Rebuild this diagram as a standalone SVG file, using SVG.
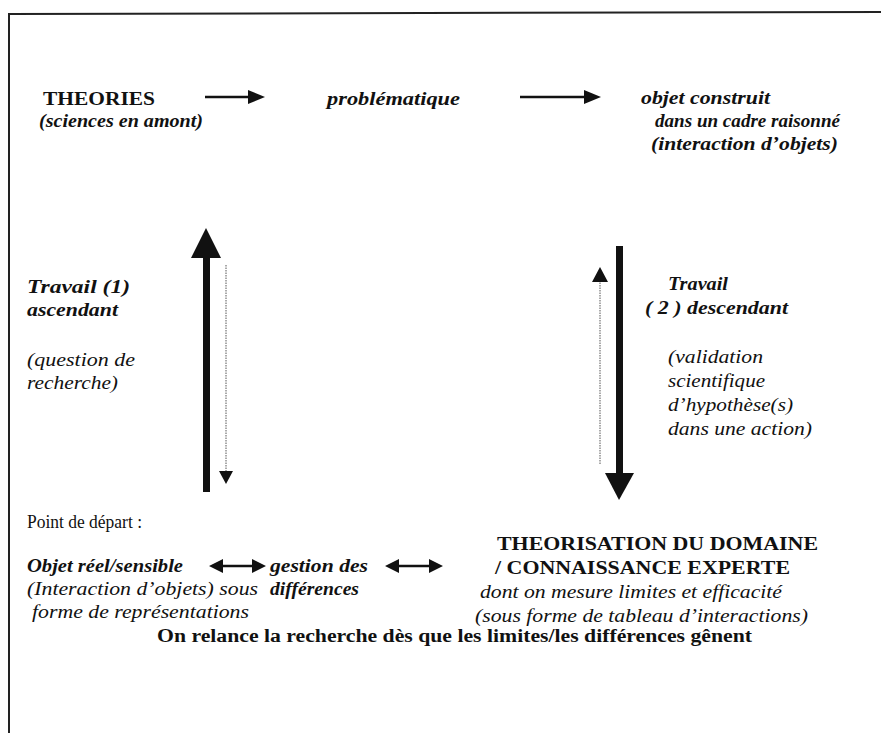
<svg xmlns="http://www.w3.org/2000/svg" width="881" height="733" viewBox="0 0 881 733" font-family="Liberation Serif, DejaVu Serif, serif">
<style>
text{font-family:'Liberation Serif','DejaVu Serif',serif;font-size:18px;fill:#111}
.b{font-weight:bold}
.i{font-style:italic}
.bi{font-weight:bold;font-style:italic}
.frame{stroke:#222;stroke-width:2;fill:none}
.thin{stroke:#111;stroke-width:2.5}
.dot{stroke:#555;stroke-width:1;stroke-dasharray:1.5 1}
</style>
<rect width="881" height="733" fill="#fff"/>
<path class="frame" d="M9,733 L9,14 L881,12"/>

<g id="theories"><text class="b" x="43" y="105" textLength="112" lengthAdjust="spacingAndGlyphs">THEORIES</text><text class="bi" x="39" y="127" textLength="164" lengthAdjust="spacingAndGlyphs">(sciences en amont)</text></g>
<g id="problematique"><text class="bi" x="327" y="105" textLength="133" lengthAdjust="spacingAndGlyphs">problématique</text></g>
<g id="objet-construit"><text class="bi" x="641" y="104" textLength="129" lengthAdjust="spacingAndGlyphs">objet construit</text><text class="bi" x="655" y="127" textLength="185" lengthAdjust="spacingAndGlyphs">dans un cadre raisonné</text><text class="bi" x="651" y="150" textLength="187" lengthAdjust="spacingAndGlyphs">(interaction d’objets)</text></g>
<g id="travail1"><text class="bi" x="27" y="293" textLength="103" lengthAdjust="spacingAndGlyphs">Travail  (1)</text><text class="bi" x="27" y="316" textLength="91" lengthAdjust="spacingAndGlyphs">ascendant</text><text class="i" x="27" y="366" textLength="108" lengthAdjust="spacingAndGlyphs">(question de</text><text class="i" x="27" y="389" textLength="91" lengthAdjust="spacingAndGlyphs">recherche)</text></g>
<g id="travail2"><text class="bi" x="668" y="290" textLength="60" lengthAdjust="spacingAndGlyphs">Travail</text><text class="bi" x="645" y="314" textLength="143" lengthAdjust="spacingAndGlyphs">( 2 ) descendant</text><text class="i" x="668" y="363" textLength="95" lengthAdjust="spacingAndGlyphs">(validation</text><text class="i" x="668" y="387" textLength="97" lengthAdjust="spacingAndGlyphs">scientifique</text><text class="i" x="668" y="411" textLength="125" lengthAdjust="spacingAndGlyphs">d’hypothèse(s)</text><text class="i" x="668" y="435" textLength="144" lengthAdjust="spacingAndGlyphs">dans une action)</text></g>
<g id="depart"><text x="27" y="528" textLength="115" lengthAdjust="spacingAndGlyphs">Point de départ :</text><text class="bi" x="27" y="572" textLength="156" lengthAdjust="spacingAndGlyphs">Objet réel/sensible</text><text class="i" x="27" y="595" textLength="231" lengthAdjust="spacingAndGlyphs">(Interaction d’objets) sous</text><text class="i" x="32" y="618" textLength="217" lengthAdjust="spacingAndGlyphs">forme de représentations</text></g>
<g id="gestion"><text class="bi" x="270" y="572" textLength="98" lengthAdjust="spacingAndGlyphs">gestion des</text><text class="bi" x="270" y="595" textLength="89" lengthAdjust="spacingAndGlyphs">différences</text></g>
<g id="theorisation"><text class="b" x="497" y="550" textLength="321" lengthAdjust="spacingAndGlyphs">THEORISATION DU DOMAINE</text><text class="b" x="495" y="574" textLength="295" lengthAdjust="spacingAndGlyphs">/ CONNAISSANCE EXPERTE</text><text class="i" x="480" y="598" textLength="302" lengthAdjust="spacingAndGlyphs">dont on mesure limites et efficacité</text><text class="i" x="475" y="622" textLength="333" lengthAdjust="spacingAndGlyphs">(sous forme de tableau d’interactions)</text></g>
<g id="relance"><text class="b" x="157" y="642" textLength="595" lengthAdjust="spacingAndGlyphs">On relance la recherche dès que les limites/les différences gênent</text></g>

<g id="connectors">
<line class="thin" x1="205" y1="97" x2="250" y2="97"/>
<path d="M248,90 L265,97 L248,104 Z" fill="#111"/>
<line class="thin" x1="520" y1="97" x2="586" y2="97"/>
<path d="M584,90 L601,97 L584,104 Z" fill="#111"/>
<rect x="203" y="255" width="7" height="237" fill="#111"/>
<path d="M191,258 L206,228 L221,258 Z" fill="#111"/>
<line class="dot" x1="226" y1="265" x2="226" y2="474"/>
<path d="M219,471 L233,471 L226,484 Z" fill="#111"/>
<rect x="616" y="246" width="7" height="229" fill="#111"/>
<path d="M605,473 L634,473 L619,500 Z" fill="#111"/>
<line class="dot" x1="600" y1="280" x2="600" y2="465"/>
<path d="M592,282 L608,282 L600,267 Z" fill="#111"/>
<line class="thin" x1="220" y1="566" x2="256" y2="566"/>
<path d="M209,566 L223,559 L223,573 Z M266,566 L252,559 L252,573 Z" fill="#111"/>
<line class="thin" x1="396" y1="566" x2="432" y2="566"/>
<path d="M385,566 L399,559 L399,573 Z M443,566 L429,559 L429,573 Z" fill="#111"/>
</g>
</svg>
